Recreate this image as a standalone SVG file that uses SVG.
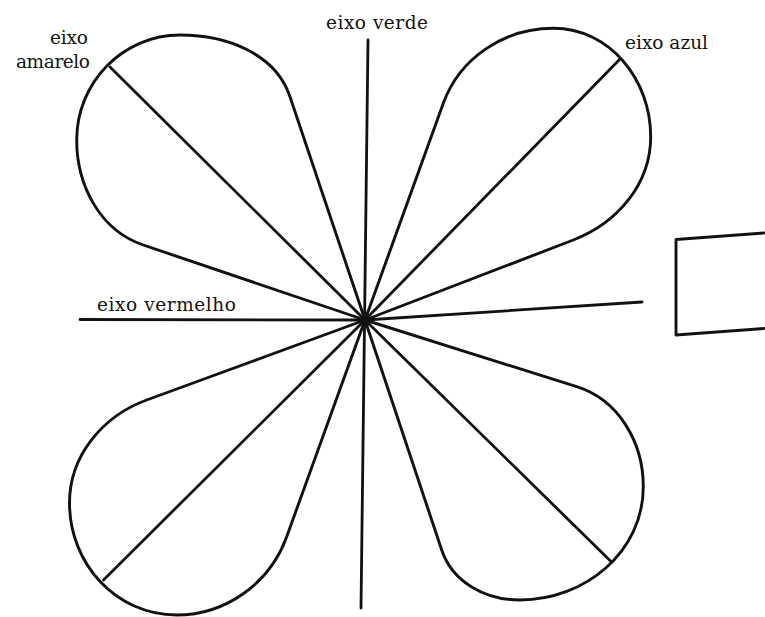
<svg xmlns="http://www.w3.org/2000/svg" width="765" height="617" viewBox="0 0 765 617">
<style>
.lobe{fill:none;stroke:#111;stroke-width:2.9;stroke-linejoin:round}
.ax{stroke:#111;stroke-width:2.8;stroke-linecap:round;fill:none}
.lbl{font-family:"DejaVu Serif","Liberation Serif",serif;font-size:18.5px;fill:#111}
</style>
<rect width="765" height="617" fill="#fff"/>
<g id="lobe-amarelo"><path class="lobe" d="M365 320 L143.3 245 C100.1 230.4 76.7 185.6 76.7 140 C76.7 82.6 122.6 35 180 35 C226 35 275.4 53.1 290 96.7 Z"/></g>
<g id="lobe-azul"><path class="lobe" d="M365 320 L443.3 103.3 C459.9 57.5 504.6 28.3 553.3 28.3 C610.1 28.3 650.7 79.9 650.7 136.7 C650.7 183.9 617.4 223.1 573.3 240 Z"/></g>
<g id="lobe-inferior-esquerdo"><path class="lobe" d="M365 320 L146.7 400 C102.4 416.2 69.5 455.8 69.5 503 C69.5 563.7 116 615 176.7 615 C226.1 615 269.9 583.1 286.7 536.7 Z"/></g>
<g id="lobe-inferior-direito"><path class="lobe" d="M365 320 L576.7 386.7 C618.9 400 643.3 442.5 643.3 486.7 C643.3 551.8 585.1 600 520 600 C485.8 600 452.5 582.5 441.7 550 Z"/></g>
<g id="axes">
<line class="ax" x1="368" y1="40" x2="361" y2="608"/>
<line class="ax" x1="80" y1="319.5" x2="365" y2="320"/>
<line class="ax" x1="365" y1="320" x2="642" y2="302"/>
<line class="ax" x1="365" y1="320" x2="110" y2="67"/>
<line class="ax" x1="365" y1="320" x2="620" y2="59"/>
<line class="ax" x1="365" y1="320" x2="103.5" y2="580"/>
<line class="ax" x1="365" y1="320" x2="611.5" y2="562"/>
</g>
<g id="box"><path class="lobe" d="M770 232.5 L676 239.5 L676 335 L770 328"/></g>
<g id="labels">
<text class="lbl" x="326" y="29" textLength="102" lengthAdjust="spacing">eixo verde</text>
<text class="lbl" x="50" y="43.5" textLength="38" lengthAdjust="spacing">eixo</text>
<text class="lbl" x="16" y="68" textLength="74" lengthAdjust="spacing">amarelo</text>
<text class="lbl" x="625" y="49" textLength="83" lengthAdjust="spacing">eixo azul</text>
<text class="lbl" x="97" y="311" textLength="139" lengthAdjust="spacing">eixo vermelho</text>
</g>
</svg>
